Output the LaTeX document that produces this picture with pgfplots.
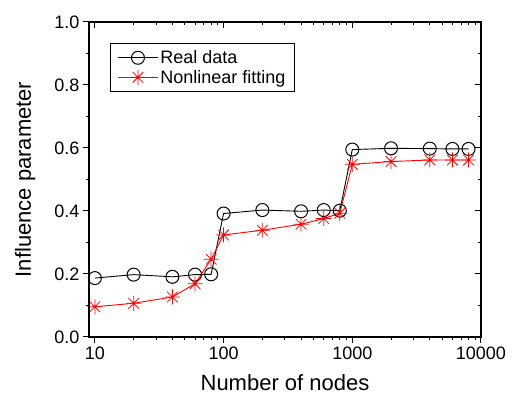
\documentclass[border=0pt]{standalone}
\usepackage{pgfplots}
\pgfplotsset{compat=1.18}
\usepackage{fontspec}
\setmainfont{Liberation Sans}
\pgfdeclareplotmark{star8}{%
  \pgfpathmoveto{\pgfqpoint{-\pgfplotmarksize}{0pt}}\pgfpathlineto{\pgfqpoint{\pgfplotmarksize}{0pt}}%
  \pgfpathmoveto{\pgfqpoint{0pt}{-\pgfplotmarksize}}\pgfpathlineto{\pgfqpoint{0pt}{\pgfplotmarksize}}%
  \pgfpathmoveto{\pgfqpoint{-0.707\pgfplotmarksize}{-0.707\pgfplotmarksize}}\pgfpathlineto{\pgfqpoint{0.707\pgfplotmarksize}{0.707\pgfplotmarksize}}%
  \pgfpathmoveto{\pgfqpoint{-0.707\pgfplotmarksize}{0.707\pgfplotmarksize}}\pgfpathlineto{\pgfqpoint{0.707\pgfplotmarksize}{-0.707\pgfplotmarksize}}%
  \pgfusepathqstroke}
\pgfplotstableread{
x real fit
10 0.187 0.096
20 0.198 0.107
40 0.191 0.127
60 0.198 0.169
80 0.199 0.247
100 0.392 0.324
200 0.403 0.339
400 0.399 0.358
600 0.403 0.376
800 0.401 0.393
1000 0.595 0.548
2000 0.599 0.557
4000 0.598 0.562
6000 0.597 0.562
8000 0.597 0.562
}\datatable
\begin{document}
\begin{tikzpicture}
\begin{semilogxaxis}[
  at={(0,0)}, anchor=south west,
  scale only axis, width=392pt, height=315pt,
  xmin=9, xmax=10000, ymin=0, ymax=1.0,
  xtick={10,100,1000,10000}, xticklabels={10,100,1000,10000},
  ytick={0,0.2,0.4,0.6,0.8,1.0},
  minor ytick={0.1,0.3,0.5,0.7,0.9},
  yticklabel style={/pgf/number format/.cd, fixed, fixed zerofill, precision=1},
  /pgf/number format/assume math mode=true,
  tick label style={font=\fontsize{18}{21}\selectfont},
  xtick pos=bottom, ytick pos=left,
  tick align=outside,
  major tick length=6pt, minor tick length=3.5pt,
  every tick/.style={black, line width=1pt},
  axis line style={line width=1.2pt},
  xlabel={Number of nodes}, ylabel={Influence parameter},
  label style={font=\fontsize{22}{26}\selectfont},
  xlabel style={at={(axis description cs:0.5,-0.146)}, anchor=center},
  ylabel style={at={(axis description cs:-0.163,0.5)}, anchor=center},
  legend style={at={(0,1)}, anchor=north west, xshift=21pt, yshift=-21pt,
    font=\fontsize{18}{22}\selectfont, draw=black, line width=1pt,
    inner xsep=7pt, inner ysep=5pt, row sep=1pt, cells={anchor=west}},
  legend image code/.code={%
    \draw[mark repeat=2, mark phase=2, #1] plot coordinates {(0pt,0pt) (20pt,0pt) (40pt,0pt)};},
]
\addplot[black, line width=0.9pt, mark=o, mark size=6.5pt,
  mark options={fill=white, solid, line width=1pt}] table[x=x, y=real] {\datatable};
\addlegendentry{Real data}
\addplot[red, line width=0.9pt, mark=star8, mark size=7.5pt,
  mark options={solid, line width=0.75pt}] table[x=x, y=fit] {\datatable};
\addlegendentry{Nonlinear fitting}
\end{semilogxaxis}
\begin{semilogxaxis}[
  at={(0,0)}, anchor=south west,
  scale only axis, width=392pt, height=315pt,
  xmin=9, xmax=10000, ymin=0, ymax=1.0,
  xtick={10,100,1000,10000}, xticklabels={},
  ytick={0,0.2,0.4,0.6,0.8,1.0}, yticklabels={},
  minor ytick={0.1,0.3,0.5,0.7,0.9},
  xtick pos=top, ytick pos=right,
  tick align=inside,
  major tick length=6pt, minor tick length=3.5pt,
  every tick/.style={black, line width=1pt},
  axis line style={line width=1.2pt},
]
\end{semilogxaxis}
\pgfresetboundingbox
\useasboundingbox (-89pt,-58pt) rectangle (426pt,337pt);
\end{tikzpicture}
\end{document}
